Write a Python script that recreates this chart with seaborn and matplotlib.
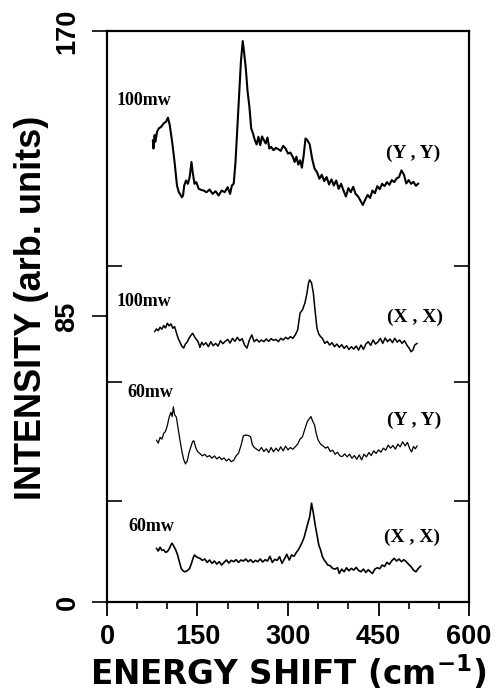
import numpy as np
import pandas as pd
import matplotlib
matplotlib.use('Agg')
import matplotlib.pyplot as plt
import seaborn as sns
from matplotlib.ticker import FixedLocator, MultipleLocator

# Espectros Raman (energia em cm-1, intensidade em unidades arbitrarias)
x_100_yy = [76, 77, 79, 80, 83, 86, 90, 94, 98, 101, 104, 108, 112, 116, 119, 121, 124, 126, 128, 131,
            134, 137, 140, 142, 145, 148, 152, 156, 160, 165, 170, 175, 180, 185, 190, 195, 200, 204, 207, 210,
            213, 216, 219, 222, 225, 227, 230, 233, 236, 239, 242, 245, 248, 251, 254, 257, 260, 263, 266, 269,
            272, 276, 280, 284, 288, 292, 296, 300, 304, 308, 311, 314, 317, 320, 323, 326, 329, 332, 336, 340,
            344, 348, 352, 356, 360, 364, 368, 372, 376, 380, 384, 388, 392, 396, 400, 404, 408, 412, 416, 420,
            424, 428, 432, 436, 440, 444, 448, 452, 456, 460, 464, 468, 472, 476, 480, 484, 488, 492, 496, 500,
            504, 508, 512, 516]
y_100_yy = [137.5, 135, 139, 137, 140, 141, 141.5, 142.5, 143, 144.2, 142, 137, 131, 124, 122, 121.5, 120.5, 121, 124, 125.5,
            124.5, 126.5, 131, 128, 124.5, 125, 123, 122.7, 122.5, 122, 122.8, 121.5, 122.3, 121, 122.5, 122, 123.5, 121.5, 124, 124.5,
            131, 141, 151, 161, 167, 164, 159, 152, 147.5, 141, 139.5, 137.5, 136.2, 138.5, 136, 138.6, 137.5, 136.5, 138.3, 135,
            135.5, 134.5, 135.2, 134.8, 134.3, 135.8, 135, 133.5, 133.8, 132.5, 131, 132.6, 130.2, 131.5, 129.3, 133, 138, 137.5, 136.2, 132,
            129, 128, 126, 127.2, 125.3, 126.5, 124.3, 125.8, 124, 125.5, 123, 124.5, 122.5, 120.7, 123.2, 122, 123.6, 121.5, 120.8, 119.5,
            118.2, 119.8, 121.2, 120.3, 122.5, 121.7, 123.8, 122.9, 124.5, 123.8, 125, 124.2, 125.6, 125, 126.1, 126.5, 128.5, 127.3, 124.6, 125.6,
            124.5, 125.1, 123.9, 124.6]

x_100_xx = [79, 82, 85, 88, 91, 94, 97, 100, 103, 106, 109, 112, 115, 118, 121, 124, 127, 130, 133, 136,
            139, 142, 145, 148, 151, 154, 157, 160, 164, 168, 172, 176, 180, 184, 188, 192, 196, 200, 204, 208,
            212, 216, 220, 224, 228, 232, 236, 240, 244, 248, 252, 256, 260, 264, 268, 272, 276, 280, 284, 288,
            292, 296, 300, 304, 308, 312, 316, 320, 324, 328, 331, 334, 336, 339, 342, 345, 348, 351, 354, 357,
            361, 365, 369, 373, 377, 381, 385, 389, 393, 397, 401, 405, 409, 413, 417, 421, 425, 429, 433, 437,
            441, 445, 449, 453, 457, 461, 465, 469, 473, 477, 481, 485, 489, 493, 497, 501, 504, 507, 510, 514]
y_100_xx = [80.5, 81.3, 80.8, 81.8, 81.2, 82.3, 81.6, 83.0, 82.2, 82.8, 81.5, 82.0, 80.2, 78.5, 77.3, 76.2, 75.6, 76.8, 77.4, 78.5,
            79.4, 80.0, 79.0, 78.2, 77.5, 75.8, 77.3, 76.5, 77.2, 76.0, 77.5, 76.3, 77.0, 76.2, 77.8, 76.9, 77.6, 78.2, 77.1, 78.5,
            77.6, 78.8, 77.8, 78.4, 76.5, 75.6, 78.0, 79.5, 77.5, 78.2, 77.4, 78.0, 77.5, 78.3, 77.6, 78.4, 77.9, 78.2, 77.5, 78.5,
            78.0, 78.8, 78.3, 79.0, 78.5, 79.5, 81.0, 86.0, 87.0, 89.0, 91.5, 95.0, 95.9, 95.0, 92.0, 86.5, 81.5, 79.8, 79.0, 78.5,
            77.0, 77.6, 76.5, 77.2, 76.0, 76.8, 75.8, 76.6, 75.5, 76.3, 75.2, 76.0, 75.3, 76.2, 75.0, 76.5, 75.2, 76.8, 77.5, 76.4,
            78.0, 76.8, 77.4, 78.5, 77.0, 78.6, 77.5, 78.3, 77.2, 78.5, 77.4, 78.0, 77.0, 77.8, 76.5, 75.5, 74.5, 75.0, 76.5, 77.0]

x_60_yy = [82, 85, 88, 91, 94, 97, 100, 103, 106, 108, 110, 112, 115, 118, 121, 124, 127, 130, 133, 136,
           139, 142, 144, 147, 150, 154, 158, 162, 166, 170, 174, 178, 182, 186, 190, 194, 198, 202, 206, 210,
           214, 218, 222, 226, 230, 234, 238, 241, 244, 248, 252, 256, 260, 264, 268, 272, 276, 280, 284, 288,
           292, 296, 300, 304, 308, 312, 316, 320, 324, 328, 332, 335, 338, 341, 344, 347, 350, 354, 358, 362,
           366, 370, 374, 378, 382, 386, 390, 394, 398, 402, 406, 410, 414, 418, 422, 426, 430, 434, 438, 442,
           446, 450, 454, 458, 462, 466, 470, 474, 478, 482, 486, 490, 494, 498, 502, 505, 508, 511, 514]
y_60_yy = [48.2, 47.3, 49.0, 48.5, 50.2, 50.8, 52.5, 55.0, 56.5, 55.2, 58.1, 55.8, 55.0, 51.5, 48.2, 45.0, 42.5, 41.1, 42.0, 44.5,
           46.2, 47.8, 48.0, 46.0, 44.8, 44.2, 43.5, 44.0, 43.2, 43.6, 42.8, 43.5, 42.6, 43.2, 42.4, 42.9, 42.0, 42.6, 41.8, 42.2,
           43.5, 44.3, 46.5, 49.5, 49.7, 49.6, 49.2, 46.8, 46.0, 45.5, 45.0, 46.0, 44.8, 45.6, 44.5, 46.0, 44.7, 45.8, 44.9, 46.2,
           45.0, 46.4, 45.3, 46.0, 45.5, 46.2, 47.0, 48.5, 49.2, 51.5, 53.7, 54.5, 55.2, 53.8, 52.7, 50.0, 48.2, 47.0, 46.5, 45.8,
           46.2, 44.8, 45.2, 44.0, 44.6, 43.5, 43.3, 44.1, 43.2, 44.0, 42.8, 43.6, 42.5, 43.8, 42.3, 44.0, 43.2, 44.5, 43.6, 45.0,
           44.2, 45.3, 44.6, 45.8, 45.2, 46.7, 45.8, 46.6, 45.5, 47.0, 46.2, 47.7, 46.5, 47.5, 45.5, 44.7, 46.3, 45.6, 46.5]

x_60_xx = [82, 85, 88, 91, 94, 97, 100, 103, 106, 108, 111, 114, 117, 120, 123, 126, 129, 132, 135, 137,
           140, 143, 145, 148, 151, 154, 158, 162, 166, 170, 174, 178, 182, 186, 190, 194, 198, 202, 206, 210,
           214, 218, 222, 226, 230, 234, 238, 242, 246, 250, 254, 258, 262, 266, 270, 274, 278, 282, 286, 290,
           294, 298, 302, 306, 310, 314, 317, 320, 324, 327, 330, 333, 336, 339, 342, 345, 348, 351, 354, 357,
           360, 363, 366, 370, 374, 378, 382, 385, 389, 393, 397, 401, 405, 409, 413, 417, 421, 425, 429, 433,
           437, 440, 444, 448, 452, 456, 460, 464, 468, 472, 476, 480, 484, 488, 492, 496, 500, 504, 508, 512,
           516, 520]
y_60_xx = [16.0, 15.2, 16.3, 15.4, 15.5, 14.8, 15.0, 15.8, 17.0, 17.5, 16.5, 15.5, 14.0, 12.0, 10.0, 9.3, 9.0, 9.2, 9.6, 10.0,
           11.5, 13.2, 14.0, 13.5, 13.2, 13.0, 12.4, 12.8, 11.8, 12.5, 11.5, 12.2, 11.3, 12.0, 11.0, 11.8, 12.5, 11.6, 12.4, 12.0,
           12.6, 11.8, 12.5, 12.2, 12.8, 12.0, 12.6, 11.8, 12.4, 12.0, 12.8, 11.9, 12.6, 12.2, 13.6, 11.8, 12.7, 12.4, 13.5, 11.5,
           12.8, 14.2, 12.5, 14.0, 13.6, 14.8, 15.5, 16.5, 18.0, 19.4, 21.5, 23.5, 25.4, 29.4, 26.5, 23.0, 20.0, 17.0, 15.5, 13.5,
           12.5, 11.8, 11.0, 10.8, 10.0, 9.8, 10.2, 8.5, 9.8, 9.0, 10.2, 9.3, 10.0, 9.5, 10.3, 9.4, 9.0, 9.8, 8.8, 9.6,
           8.9, 8.5, 9.8, 10.2, 9.9, 11.0, 10.6, 11.8, 11.2, 12.3, 13.0, 12.2, 12.8, 12.0, 12.6, 12.0, 11.2, 10.5, 9.5, 9.0,
           10.0, 10.7]

# Rotulos de cada espectro
potencias = ['100mw', '100mw', '60mw', '60mw']
polarizacoes = ['(Y , Y)', '(X , X)', '(Y , Y)', '(X , X)']

sns.set_style('ticks')
plt.rcParams['font.family'] = ['Liberation Sans', 'DejaVu Sans']
plt.rcParams['text.color'] = 'black'
plt.rcParams['axes.labelcolor'] = 'black'
plt.rcParams['xtick.color'] = 'black'
plt.rcParams['ytick.color'] = 'black'
plt.rcParams['mathtext.fontset'] = 'custom'
plt.rcParams['mathtext.rm'] = 'DejaVu Sans:bold'
plt.rcParams['mathtext.it'] = 'DejaVu Sans:bold'
plt.rcParams['mathtext.bf'] = 'DejaVu Sans:bold'

fig = plt.figure(figsize=(4.96, 6.93), dpi=100)
ax = fig.add_axes([0.2157, 0.1313, 0.7299, 0.824])

espectros = [(x_100_yy, y_100_yy, 1.5), (x_100_xx, y_100_xx, 1.1),
             (x_60_yy, y_60_yy, 0.9), (x_60_xx, y_60_xx, 1.2)]
for xs, ys, lw in espectros:
    df = pd.DataFrame({'energia': xs, 'intensidade': ys})
    sns.lineplot(data=df, x='energia', y='intensidade', ax=ax, color='black',
                 linewidth=lw, estimator=None, sort=False)

# Textos ao lado dos espectros
pos_potencia = [(16.5, 149.4), (16.5, 89.5), (33, 62.4), (35, 22.6)]
pos_polar = [(463, 133.5), (464, 84.8), (464, 54.2), (459, 19.2)]
for txt, (px, py) in zip(potencias, pos_potencia):
    ax.text(px, py, txt, fontsize=13, fontweight='bold', family='Liberation Serif',
            ha='left', va='center')
for txt, (px, py) in zip(polarizacoes, pos_polar):
    ax.text(px, py, txt, fontsize=14, fontweight='bold', family='Liberation Serif',
            ha='left', va='center')

ax.set_xlim(0, 600)
ax.set_ylim(0, 170)
ax.set_xticks([0, 150, 300, 450, 600])
ax.xaxis.set_minor_locator(MultipleLocator(50))
ax.set_yticks([0, 85, 170])
ax.yaxis.set_minor_locator(FixedLocator([30, 65.5, 100]))

ax.tick_params(axis='x', which='major', direction='out', length=10, width=1.3,
               labelsize=19.5, pad=6)
ax.tick_params(axis='x', which='minor', direction='out', length=5, width=1.2)
ax.tick_params(axis='y', which='major', direction='out', length=11, width=1.2,
               labelsize=19.5, pad=8, left=True, right=False)
ax.tick_params(axis='y', which='minor', direction='in', length=11, width=1.2,
               left=True, right=True)
for lab in ax.get_xticklabels() + ax.get_yticklabels():
    lab.set_fontweight('bold')
for lab in ax.get_yticklabels():
    lab.set_rotation(90)
    lab.set_va('center')

for sp in ax.spines.values():
    sp.set_visible(True)
    sp.set_linewidth(1.6)
    sp.set_color('black')

ax.set_xlabel('')
ax.set_ylabel('')
fig.text(0.58, 0.058, 'ENERGY SHIFT (cm$^{-1}$)', fontsize=23.5, fontweight='bold',
         family='DejaVu Sans', ha='center', va='top')
fig.text(0.0635, 0.556, 'INTENSITY (arb. units)', fontsize=26, fontweight='bold',
         family='Liberation Sans', ha='center', va='center', rotation=90)

fig.savefig('out.png', dpi=100)
